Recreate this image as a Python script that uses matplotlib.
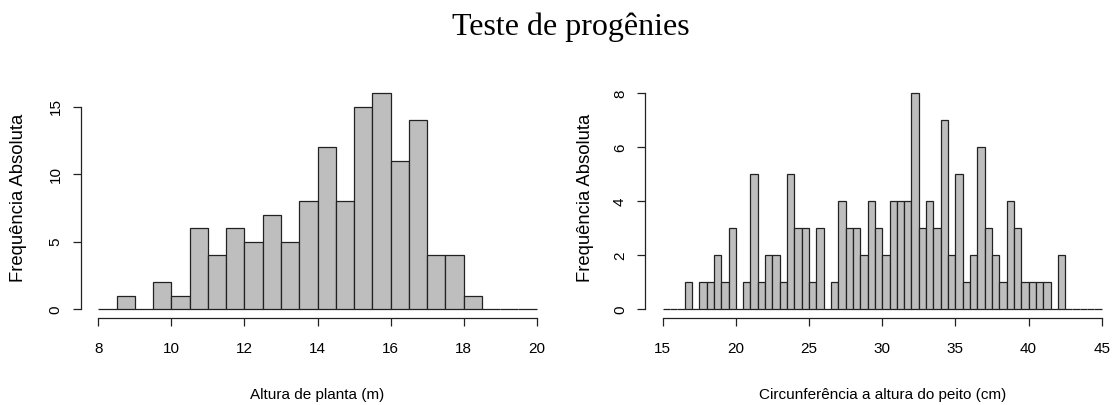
import matplotlib.pyplot as plt
import numpy as np

# contagens por classe (largura 0.5)
altura_bins = np.arange(8, 20.01, 0.5)
altura_counts = [0, 1, 0, 2, 1, 6, 4, 6, 5, 7, 5, 8, 12, 8, 15, 16, 11, 14, 4, 4, 1, 0, 0, 0]

cap_bins = np.arange(15, 45.01, 0.5)
cap_counts = [0, 0, 0, 1, 0, 1, 1, 2, 1, 3,
              0, 1, 5, 1, 2, 2, 1, 5, 3, 3,
              1, 3, 0, 1, 4, 3, 3, 2, 4, 3,
              2, 4, 4, 4, 8, 3, 4, 3, 7, 2,
              5, 1, 2, 6, 3, 2, 1, 4, 3, 1,
              1, 1, 1, 0, 2, 0, 0, 0, 0, 0]

altura_xticks = [8, 10, 12, 14, 16, 18, 20]
altura_yticks = [0, 5, 10, 15]
cap_xticks = [15, 20, 25, 30, 35, 40, 45]
cap_yticks = [0, 2, 4, 6, 8]

W, H = 1114, 405
sans = ['Liberation Sans', 'DejaVu Sans']

fig = plt.figure(figsize=(W / 100, H / 100), dpi=100)


def r_hist(ax, bins, counts, xticks, yticks, xlabel, ylabel_x):
    ax.bar(bins[:-1], counts, width=bins[1] - bins[0], align='edge',
           color='#bebebe', edgecolor='#222222', linewidth=0.9)
    x0, x1 = bins[0], bins[-1]
    ymax = max(counts)
    ax.set_xlim(x0 - 0.04 * (x1 - x0), x1 + 0.04 * (x1 - x0))
    ax.set_ylim(-0.04 * ymax, ymax * 1.04)
    for s in ['top', 'right']:
        ax.spines[s].set_visible(False)
    ax.spines['bottom'].set_bounds(xticks[0], xticks[-1])
    ax.spines['left'].set_bounds(yticks[0], yticks[-1])
    for s in ['bottom', 'left']:
        ax.spines[s].set_linewidth(0.9)
        ax.spines[s].set_color('#222222')
    ax.set_xticks(xticks)
    ax.set_yticks(yticks)
    ax.tick_params(axis='both', direction='out', length=6, width=0.9, color='#222222')
    ax.tick_params(axis='x', pad=11)
    ax.tick_params(axis='y', pad=7)
    for lab in ax.get_xticklabels():
        lab.set_fontfamily(sans)
        lab.set_fontsize(11)
    for lab in ax.get_yticklabels():
        lab.set_fontfamily(sans)
        lab.set_fontsize(11)
        lab.set_rotation(90)
        lab.set_va('center')
    pos = ax.get_position()
    fig.text((pos.x0 + pos.x1) / 2, 1 - 395 / H, xlabel, ha='center', va='center',
             family=sans, fontsize=11)
    fig.text(ylabel_x / W, 1 - 198 / H, 'Frequência Absoluta', rotation=90,
             ha='center', va='center', family=sans, fontsize=13.3)


bottom = (H - 317.9) / H
height = (317.9 - 84.7) / H

ax1 = fig.add_axes([80.8 / W, bottom, (554.2 - 80.8) / W, height])
r_hist(ax1, altura_bins, altura_counts, altura_xticks, altura_yticks,
       'Altura de planta (m)', 18.5)

ax2 = fig.add_axes([645.1 / W, bottom, (1119.3 - 645.1) / W, height])
r_hist(ax2, cap_bins, cap_counts, cap_xticks, cap_yticks,
       'Circunferência a altura do peito (cm)', 585)

fig.text(570.5 / W, 1 - 35 / H, 'Teste de progênies', ha='center', va='baseline',
         family=['Liberation Serif', 'DejaVu Serif'], fontsize=23)

fig.savefig('out.png', dpi=100)
